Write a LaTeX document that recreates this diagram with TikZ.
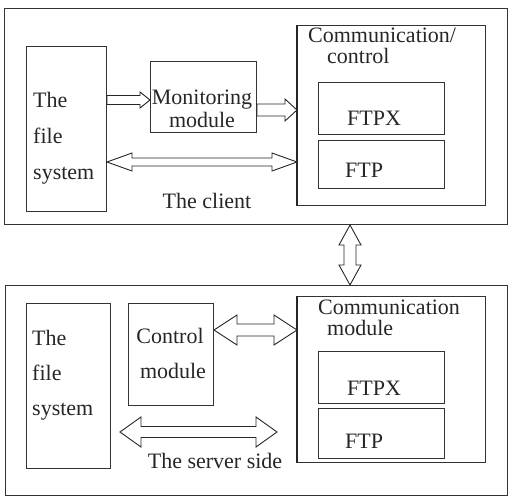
\documentclass[tikz,border=0pt]{standalone}
\usepackage{fontspec}
\setmainfont{Liberation Serif}
\usetikzlibrary{calc}
\tikzset{
  box/.style={draw=black!80, line width=1pt, inner sep=0pt, anchor=north west},
  lbl/.style={inner sep=0pt, text=black!85, font=\fontsize{22}{36}\selectfont},
  fat/.style={draw=black!85, line width=0.9pt, fill=white, line join=miter},
}
% horizontal single arrow: start, end, shaft half, head half, head length
\newcommand{\hsarrow}[5]{%
  \draw[fat] let \p1=(#1), \p2=(#2) in
    (\x1,\y1+#3) -- (\x2-#5,\y1+#3) -- (\x2-#5,\y1+#4) -- (\x2,\y1)
    -- (\x2-#5,\y1-#4) -- (\x2-#5,\y1-#3) -- (\x1,\y1-#3) -- cycle;}
% horizontal double arrow
\newcommand{\hdarrow}[5]{%
  \draw[fat] let \p1=(#1), \p2=(#2) in
    (\x1,\y1) -- (\x1+#5,\y1+#4) -- (\x1+#5,\y1+#3) -- (\x2-#5,\y1+#3)
    -- (\x2-#5,\y1+#4) -- (\x2,\y1) -- (\x2-#5,\y1-#4) -- (\x2-#5,\y1-#3)
    -- (\x1+#5,\y1-#3) -- (\x1+#5,\y1-#4) -- cycle;}
% vertical double arrow (start above end)
\newcommand{\vdarrow}[5]{%
  \draw[fat] let \p1=(#1), \p2=(#2) in
    (\x1,\y1) -- (\x1+#4,\y1-#5) -- (\x1+#3,\y1-#5) -- (\x1+#3,\y2+#5)
    -- (\x1+#4,\y2+#5) -- (\x1,\y2) -- (\x1-#4,\y2+#5) -- (\x1-#3,\y2+#5)
    -- (\x1-#3,\y1-#5) -- (\x1-#4,\y1-#5) -- cycle;}
\begin{document}
\begin{tikzpicture}[x=1pt,y=-1pt]
\useasboundingbox (0,0) rectangle (516,496);
% ---- client ----
\node[box, minimum width=503pt, minimum height=216pt] (client) at (4,8) {};
\node[box, minimum width=80pt, minimum height=165pt] (fs1) at (26,46) {};
\node[box, minimum width=106pt, minimum height=71pt] (mon) at (150,61) {};
\node[box, minimum width=188pt, minimum height=180pt] (cc) at (297,25) {};
\draw[line width=2pt, black!85] (cc.north west) -- (cc.south west);
\node[box, minimum width=126pt, minimum height=52pt] (ftpx1) at (318,82) {};
\node[box, minimum width=126pt, minimum height=48pt] (ftp1) at (318,140) {};

\node[lbl, anchor=north west, align=left] (fs1t) at (33,92) {The\\file\\system};
\node[lbl, anchor=north, align=center, font=\fontsize{22}{23}\selectfont] (mont) at (202,90) {Monitoring\\module};
\node[lbl, anchor=north west, align=left, font=\fontsize{22}{21}\selectfont] (cct) at (308,28) {Communication/\\\hspace*{19pt}control};
\node[lbl, anchor=base west] (ftpx1t) at (347,125) {FTPX};
\node[lbl, anchor=base west] (ftp1t) at (345,177) {FTP};
\node[lbl, anchor=base] (clientt) at (207,208) {The client};

\hsarrow{fs1.east |- 0,100}{mon.west |- 0,100}{4.5pt}{8pt}{10pt}
\hsarrow{mon.east |- 0,110}{cc.west |- 0,110}{6pt}{11pt}{12pt}
\hdarrow{fs1.east |- 0,162}{cc.west |- 0,162}{4pt}{9pt}{25pt}

% ---- server ----
\node[box, minimum width=502pt, minimum height=210pt] (server) at (5,285) {};
\node[box, minimum width=84pt, minimum height=165pt] (fs2) at (26,303) {};
\node[box, minimum width=85pt, minimum height=102pt] (ctl) at (128,303) {};
\node[box, minimum width=188pt, minimum height=166pt] (cm) at (297,296) {};
\draw[line width=2pt, black!85] (cm.north west) -- (cm.south west);
\node[box, minimum width=126pt, minimum height=52pt] (ftpx2) at (318,351) {};
\node[box, minimum width=126pt, minimum height=50pt] (ftp2) at (318,408) {};

\node[lbl, anchor=north west, align=left, font=\fontsize{22}{35}\selectfont] (fs2t) at (32,330) {The\\file\\system};
\node[lbl, anchor=north, align=center, font=\fontsize{22}{35}\selectfont] (ctlt) at (170,328) {Control\\\hspace*{6pt}module};
\node[lbl, anchor=north west, align=left, font=\fontsize{22}{21}\selectfont] (cmt) at (318,300) {Communication\\\hspace*{9pt}module};
\node[lbl, anchor=base west] (ftpx2t) at (347,395) {FTPX};
\node[lbl, anchor=base west] (ftp2t) at (345,448) {FTP};
\node[lbl, anchor=base] (servert) at (215,468) {The server side};

\coordinate (s1) at (120,432);
\coordinate (s2) at (277,432);
\hdarrow{ctl.east |- 0,330}{cm.west |- 0,330}{6pt}{15pt}{23pt}
\hdarrow{s1}{s2}{5.5pt}{15pt}{21pt}

% ---- link ----
\vdarrow{350,0 |- client.south}{350,0 |- server.north}{6pt}{11pt}{20pt}
\end{tikzpicture}
\end{document}
